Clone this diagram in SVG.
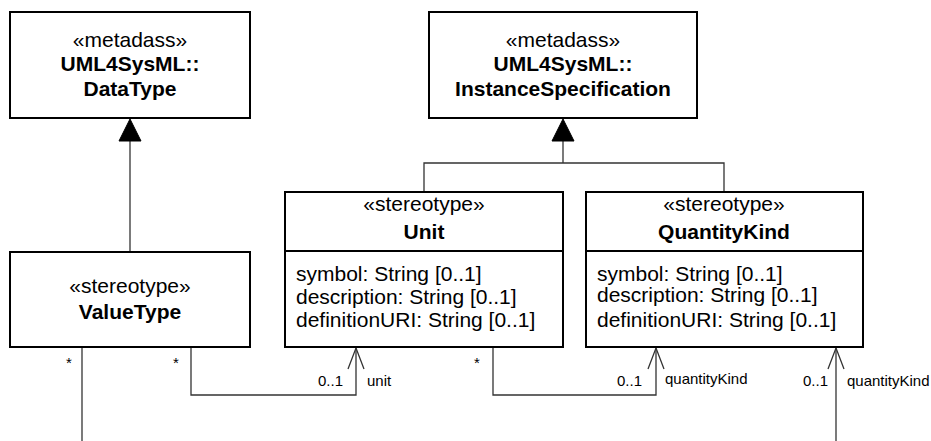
<svg xmlns="http://www.w3.org/2000/svg" width="931" height="441" viewBox="0 0 931 441">
<style>
.box{fill:#fff;stroke:#000;stroke-width:2}
.t{font-family:"Liberation Sans",Arial,sans-serif;font-size:21px;fill:#000}
.b{font-weight:bold}
.m{text-anchor:middle}
.s{font-family:"Liberation Sans",Arial,sans-serif;font-size:15px;fill:#000}
.c{fill:none;stroke:#333;stroke-width:1.3}
.tri{fill:#000;stroke:#000;stroke-width:1}
</style>
<g id="connectors">
<line class="c" x1="130" y1="141" x2="130" y2="252"/>
<polygon class="tri" points="130,119 119,141 141,141"/>
<polyline class="c" points="563,141 563,163"/>
<polyline class="c" points="424,192 424,163 724,163 724,192"/>
<polygon class="tri" points="563,119 552,141 574,141"/>
<line class="c" x1="82" y1="347" x2="82" y2="441"/>
<text class="s m" x="69" y="368">*</text>
<polyline class="c" points="191,347 191,395 356,395 356,348"/>
<polyline class="c" points="348,369 356,348 364,369"/>
<text class="s m" x="176" y="368">*</text>
<text class="s" x="343" y="386" text-anchor="end">0..1</text>
<text class="s" x="367" y="386">unit</text>
<polyline class="c" points="493,347 493,395 656,395 656,348"/>
<polyline class="c" points="648,369 656,348 664,369"/>
<text class="s m" x="477" y="368">*</text>
<text class="s" x="642" y="386" text-anchor="end">0..1</text>
<text class="s" x="665" y="384">quantityKind</text>
<polyline class="c" points="836,441 836,348"/>
<polyline class="c" points="828,369 836,348 844,369"/>
<text class="s" x="828" y="386" text-anchor="end">0..1</text>
<text class="s" x="847" y="386">quantityKind</text>
</g>
<g id="DataType">
<rect class="box" x="10" y="12" width="240" height="106"/>
<text class="t m" x="130" y="47">«metadass»</text>
<text class="t b m" x="130" y="71">UML4SysML::</text>
<text class="t b m" x="130" y="96">DataType</text>
</g>
<g id="InstanceSpecification">
<rect class="box" x="429" y="12" width="268" height="106"/>
<text class="t m" x="563" y="47">«metadass»</text>
<text class="t b m" x="563" y="71">UML4SysML::</text>
<text class="t b m" x="563" y="96">InstanceSpecification</text>
</g>
<g id="ValueType">
<rect class="box" x="10" y="252" width="240" height="95"/>
<text class="t m" x="130" y="293">«stereotype»</text>
<text class="t b m" x="130" y="319">ValueType</text>
</g>
<g id="Unit">
<rect class="box" x="285" y="192" width="278" height="155"/>
<line class="box" x1="285" y1="251" x2="563" y2="251"/>
<text class="t m" x="424" y="211">«stereotype»</text>
<text class="t b m" x="424" y="239">Unit</text>
<text class="t" x="296" y="281">symbol: String [0..1]</text>
<text class="t" x="296" y="304">description: String [0..1]</text>
<text class="t" x="296" y="327">definitionURI: String [0..1]</text>
</g>
<g id="QuantityKind">
<rect class="box" x="586" y="192" width="277" height="155"/>
<line class="box" x1="586" y1="251" x2="863" y2="251"/>
<text class="t m" x="724" y="211">«stereotype»</text>
<text class="t b m" x="724" y="239">QuantityKind</text>
<text class="t" x="597" y="281">symbol: String [0..1]</text>
<text class="t" x="597" y="302">description: String [0..1]</text>
<text class="t" x="597" y="327">definitionURI: String [0..1]</text>
</g>
</svg>
